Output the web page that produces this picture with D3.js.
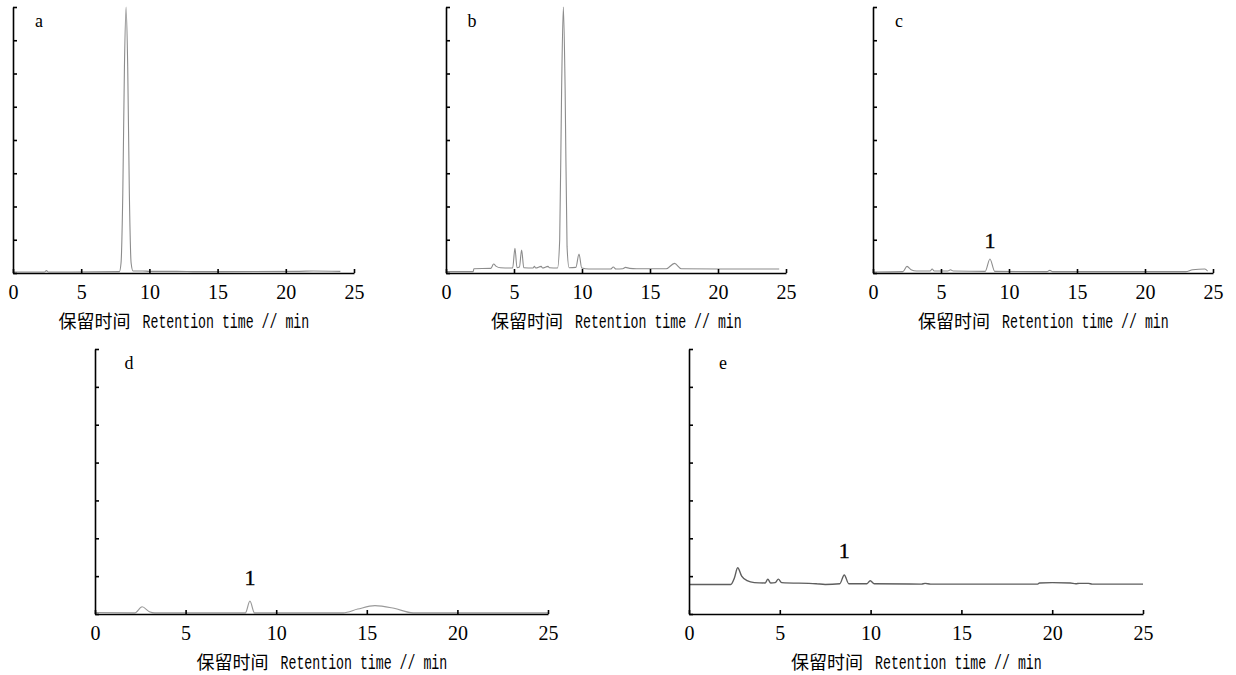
<!DOCTYPE html>
<html>
<head>
<meta charset="utf-8">
<script src="https://cdn.jsdelivr.net/npm/d3@7"></script>
<style>
  body { margin: 0; background: #fff; }
  svg { display: block; }
</style>
</head>
<body>
<div id="chart"></div>
<script>
// x axis ticks (min)
var tickValuesX = [0, 5, 10, 15, 20, 25];
var axisTitleCn = '保留时间';
var axisTitleEn = 'Retention time // min';

// chromatogram traces (signal in y-tick units)
var timeA   = [0, 2.3, 2.45, 2.6, 7.8, 7.92, 8.05, 8.17, 8.29, 8.41, 8.53, 8.66, 8.8, 9.5, 10, 12, 13.5, 15, 21, 22, 24];
var signalA = [0.03, 0.03, 0.07, 0.03, 0.04, 0.3, 2.4, 6.2, 8.0, 6.2, 2.4, 0.3, 0.06, 0.06, 0.05, 0.05, 0.04, 0.04, 0.05, 0.06, 0.05];

var timeB   = [0, 2.0, 2.05, 3.3, 3.5, 3.7, 4.0, 4.9, 5.07, 5.22, 5.4, 5.56, 5.72, 6.4, 6.5, 6.6, 7.0, 7.1, 7.5, 7.6, 8.2, 8.36, 8.5, 8.63, 8.76, 8.9, 9.05, 9.55, 9.78, 9.98, 10.5, 12.1, 12.3, 12.5, 13.0, 13.2, 13.5, 14.0, 16.2, 16.8, 17.3, 20, 24.5];
var signalB = [0.04, 0.04, 0.13, 0.14, 0.27, 0.2, 0.16, 0.15, 0.74, 0.16, 0.18, 0.69, 0.16, 0.15, 0.2, 0.15, 0.2, 0.15, 0.2, 0.16, 0.15, 1.0, 5.5, 8.0, 5.5, 0.8, 0.16, 0.17, 0.57, 0.15, 0.12, 0.12, 0.18, 0.12, 0.13, 0.17, 0.14, 0.13, 0.13, 0.29, 0.13, 0.12, 0.12];

var timeC   = [0, 2.2, 2.5, 2.8, 3.2, 4.2, 4.35, 4.5, 5.5, 5.7, 5.9, 8.25, 8.6, 8.95, 12.8, 13.0, 13.2, 23, 23.5, 24.4, 24.6];
var signalC = [0.03, 0.04, 0.2, 0.1, 0.06, 0.06, 0.12, 0.06, 0.06, 0.1, 0.06, 0.05, 0.42, 0.05, 0.04, 0.08, 0.04, 0.04, 0.1, 0.12, 0.06];

var timeD   = [0, 2.2, 2.6, 3.0, 3.3, 8.3, 8.55, 8.8, 13.7, 14.5, 15.45, 16.5, 17.55, 25];
var signalD = [0.04, 0.03, 0.19, 0.06, 0.03, 0.03, 0.34, 0.03, 0.03, 0.13, 0.22, 0.15, 0.03, 0.03];

var timeE   = [0, 2.3, 2.5, 2.68, 2.9, 3.2, 3.6, 4.2, 4.34, 4.5, 4.75, 4.92, 5.1, 7.0, 7.5, 8.3, 8.55, 8.8, 9.8, 9.98, 10.2, 12.8, 13.0, 13.3, 19.2, 19.3, 20, 21, 21.3, 21.5, 22, 22.2, 25];
var signalE = [0.78, 0.78, 0.95, 1.22, 1.0, 0.88, 0.83, 0.82, 0.92, 0.82, 0.83, 0.92, 0.83, 0.8, 0.78, 0.8, 1.03, 0.8, 0.8, 0.88, 0.8, 0.79, 0.81, 0.79, 0.79, 0.82, 0.83, 0.82, 0.8, 0.81, 0.81, 0.79, 0.79];

// peak "1" annotation: [time, signal] per panel (null = none)
var peakLabelA = null;
var peakLabelB = null;
var peakLabelC = [8.6, 0.99];
var peakLabelD = [8.55, 0.96];
var peakLabelE = [8.55, 1.69];

var panels = [
    { letter: 'a', time: timeA, signal: signalA, peak: peakLabelA, left: 13,  right: 354,  bottom: 273, top: 7,   yMax: 8, color: '#8c8c8c' },
    { letter: 'b', time: timeB, signal: signalB, peak: peakLabelB, left: 446, right: 786,  bottom: 273, top: 7,   yMax: 8, color: '#8c8c8c' },
    { letter: 'c', time: timeC, signal: signalC, peak: peakLabelC, left: 873, right: 1213, bottom: 273, top: 7,   yMax: 8, color: '#8c8c8c' },
    { letter: 'd', time: timeD, signal: signalD, peak: peakLabelD, left: 95,  right: 548,  bottom: 614, top: 349, yMax: 7, color: '#999999' },
    { letter: 'e', time: timeE, signal: signalE, peak: peakLabelE, left: 689, right: 1143, bottom: 614, top: 349, yMax: 7, color: '#5e5e5e' }
];

var svg = d3.select('#chart').append('svg')
    .attr('width', 1236)
    .attr('height', 675);

panels.forEach(function (p) {
    var x = d3.scaleLinear().domain([0, 25]).range([p.left, p.right]);
    var y = d3.scaleLinear().domain([0, p.yMax]).range([p.bottom, p.top]);
    var g = svg.append('g');

    var pts = p.time.map(function (t, i) { return [t, p.signal[i]]; });
    var line = d3.line()
        .x(function (d) { return x(d[0]); })
        .y(function (d) { return y(d[1]); })
        .curve(d3.curveMonotoneX);

    g.append('path')
        .datum(pts)
        .attr('d', line)
        .attr('fill', 'none')
        .attr('stroke', p.color)
        .attr('stroke-width', p.letter === 'e' ? 1.4 : 1.1);

    var xAxis = d3.axisBottom(x)
        .tickValues(tickValuesX)
        .tickSizeInner(-4)
        .tickSizeOuter(0)
        .tickPadding(12);
    var gx = g.append('g')
        .attr('transform', 'translate(0,' + p.bottom + ')')
        .call(xAxis);

    var yAxis = d3.axisLeft(y)
        .tickValues(d3.range(0, p.yMax + 1))
        .tickSizeInner(-4)
        .tickSizeOuter(0)
        .tickFormat('');
    g.append('g')
        .attr('transform', 'translate(' + p.left + ',0)')
        .call(yAxis);

    g.selectAll('.domain').attr('stroke', '#000').attr('stroke-width', 1.6);
    g.selectAll('.tick line').attr('stroke', '#000').attr('stroke-width', 1.6);
    gx.selectAll('.tick text')
        .attr('fill', '#000')
        .style('font-family', '"Liberation Serif", serif')
        .style('font-size', '20px');

    // panel letter
    g.append('text')
        .attr('x', p.left + (p.bottom > 300 ? 34 : 26))
        .attr('y', p.top + 20)
        .attr('text-anchor', 'middle')
        .style('font-family', '"Liberation Serif", serif')
        .style('font-size', '18px')
        .text(p.letter);

    // peak 1 annotation
    if (p.peak) {
        g.append('text')
            .attr('x', x(p.peak[0]))
            .attr('y', y(p.peak[1]))
            .attr('dy', '0.35em')
            .attr('text-anchor', 'middle')
            .attr('stroke', '#000')
            .attr('stroke-width', 0.4)
            .style('font-family', '"Liberation Serif", serif')
            .style('font-size', '22px')
            .text('1');
    }

    // axis title (latin part squeezed horizontally, like the narrow print font)
    var cx = (p.left + p.right) / 2;
    var ty = p.bottom + 55;
    g.append('text')
        .attr('x', cx - 125)
        .attr('y', ty)
        .style('font-family', '"Noto Sans CJK SC", sans-serif')
        .style('font-size', '18px')
        .text(axisTitleCn);
    g.append('text')
        .attr('transform', 'translate(' + (cx - 41) + ',' + ty + ') scale(0.63,1)')
        .style('font-family', '"Liberation Mono", monospace')
        .style('font-size', '21px')
        .text(axisTitleEn);
});
</script>
</body>
</html>
